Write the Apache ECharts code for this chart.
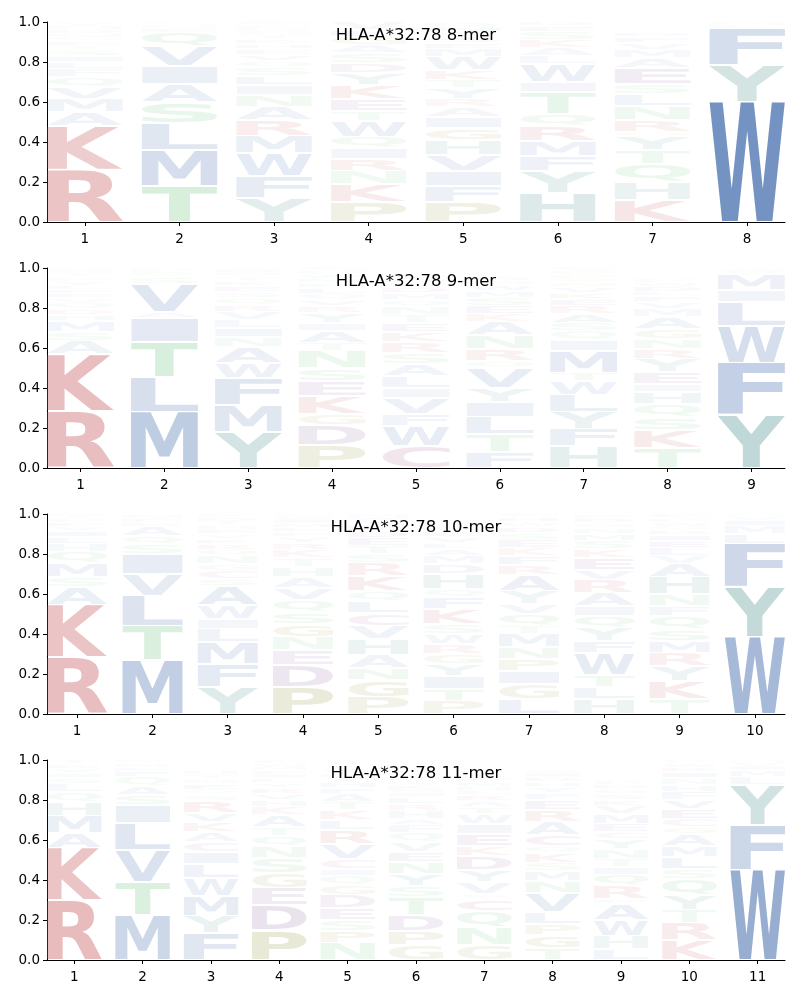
<!DOCTYPE html>
<html><head><meta charset="utf-8">
<script src="https://cdn.jsdelivr.net/npm/echarts@6/dist/echarts.min.js"></script>
<style>html,body{margin:0;padding:0;background:#fff}#c{width:800px;height:1000px}</style>
</head><body><div id="c"></div>
<script>
// ---- data: each position is a bottom-to-top stack of [letter, probability] ----
const titles = ['HLA-A*32:78 8-mer','HLA-A*32:78 9-mer','HLA-A*32:78 10-mer','HLA-A*32:78 11-mer'];
const yTicks = [0, 0.2, 0.4, 0.6, 0.8, 1.0];

const mer8 = [
 [['R',0.26],['K',0.22],['A',0.07],['M',0.065],['V',0.06],['Q',0.05],['F',0.04],['L',0.035],['I',0.03],['S',0.03],['T',0.025],['E',0.02],['G',0.02],['N',0.02],['D',0.02],['H',0.015],['Y',0.015]],
 [['T',0.18],['M',0.18],['L',0.135],['S',0.105],['A',0.09],['I',0.09],['V',0.1],['Q',0.07],['E',0.02],['N',0.015],['G',0.01],['D',0.005]],
 [['Y',0.12],['F',0.11],['W',0.115],['M',0.085],['R',0.08],['A',0.065],['N',0.06],['I',0.05],['L',0.045],['S',0.04],['Q',0.035],['V',0.03],['E',0.03],['H',0.025],['K',0.025],['T',0.02],['G',0.02],['D',0.015],['P',0.015],['C',0.015]],
 [['P',0.1],['K',0.09],['N',0.065],['R',0.06],['I',0.055],['Q',0.055],['W',0.08],['T',0.05],['E',0.06],['K',0.07],['Y',0.06],['D',0.05],['S',0.05],['A',0.04],['G',0.04],['L',0.035],['V',0.04]],
 [['P',0.1],['F',0.08],['I',0.075],['V',0.08],['H',0.075],['G',0.06],['I',0.055],['A',0.05],['R',0.04],['Y',0.055],['T',0.04],['K',0.05],['W',0.065],['M',0.04],['E',0.03],['S',0.03],['Q',0.025],['N',0.03],['D',0.02]],
 [['H',0.145],['Y',0.11],['F',0.075],['M',0.075],['R',0.075],['Q',0.06],['T',0.11],['I',0.05],['W',0.09],['L',0.04],['A',0.04],['K',0.04],['S',0.04],['E',0.03],['D',0.02]],
 [['K',0.11],['H',0.09],['Q',0.09],['T',0.07],['Y',0.07],['G',0.02],['R',0.06],['N',0.07],['L',0.06],['S',0.05],['E',0.08],['A',0.05],['M',0.04],['V',0.035],['F',0.03],['D',0.025]],
 [['W',0.6],['Y',0.185],['F',0.185],['L',0.015],['M',0.01],['I',0.005]]
];
const mer9 = [
 [['R',0.285],['K',0.285],['A',0.065],['S',0.045],['M',0.055],['H',0.03],['D',0.03],['Q',0.03],['V',0.025],['E',0.025],['F',0.02],['L',0.02],['Y',0.02],['P',0.02],['T',0.015],['G',0.015],['N',0.01],['C',0.005]],
 [['M',0.28],['L',0.175],['T',0.175],['I',0.12],['A',0.03],['V',0.14],['S',0.035],['Q',0.025],['F',0.01],['E',0.005],['N',0.005]],
 [['Y',0.18],['M',0.135],['F',0.135],['W',0.075],['A',0.08],['N',0.05],['I',0.045],['L',0.04],['V',0.04],['R',0.035],['Q',0.035],['S',0.03],['E',0.03],['K',0.025],['T',0.025],['G',0.02],['D',0.02]],
 [['P',0.115],['D',0.1],['G',0.055],['K',0.09],['E',0.075],['S',0.065],['N',0.085],['T',0.04],['A',0.06],['I',0.04],['Y',0.05],['R',0.035],['V',0.03],['Q',0.03],['L',0.03],['F',0.025],['M',0.025],['W',0.02],['H',0.015],['C',0.015]],
 [['C',0.11],['W',0.1],['F',0.06],['V',0.08],['I',0.05],['L',0.06],['A',0.06],['S',0.055],['R',0.055],['K',0.05],['E',0.045],['T',0.04],['N',0.04],['Q',0.035],['M',0.035],['D',0.03],['G',0.025],['H',0.015],['Y',0.015]],
 [['F',0.08],['T',0.09],['L',0.085],['I',0.075],['Y',0.07],['V',0.1],['Q',0.035],['R',0.06],['N',0.07],['A',0.065],['K',0.04],['E',0.04],['S',0.04],['M',0.035],['W',0.03],['G',0.025],['D',0.02]],
 [['H',0.11],['F',0.085],['Y',0.085],['L',0.085],['W',0.07],['T',0.04],['M',0.11],['I',0.055],['Q',0.045],['S',0.04],['A',0.045],['R',0.04],['E',0.035],['K',0.03],['V',0.03],['N',0.025],['G',0.02],['P',0.02],['D',0.015],['C',0.015]],
 [['T',0.1],['K',0.09],['S',0.065],['Q',0.065],['H',0.06],['I',0.04],['E',0.06],['Y',0.065],['R',0.05],['N',0.05],['G',0.05],['A',0.06],['M',0.04],['V',0.035],['F',0.03],['L',0.02],['D',0.03],['W',0.02],['P',0.02]],
 [['Y',0.265],['F',0.26],['W',0.185],['L',0.12],['I',0.06],['M',0.08],['V',0.01],['A',0.01],['H',0.005],['C',0.005]]
];
const mer10 = [
 [['R',0.285],['K',0.26],['A',0.09],['S',0.05],['M',0.07],['Q',0.055],['H',0.04],['L',0.035],['I',0.03],['V',0.025],['F',0.02],['E',0.015],['T',0.015],['N',0.01]],
 [['M',0.27],['T',0.17],['L',0.15],['V',0.11],['I',0.1],['S',0.05],['Q',0.04],['A',0.05],['E',0.02],['F',0.02],['N',0.02]],
 [['Y',0.135],['F',0.115],['M',0.11],['L',0.065],['I',0.05],['W',0.07],['A',0.095],['S',0.035],['C',0.04],['G',0.035],['N',0.04],['Q',0.03],['R',0.03],['K',0.025],['V',0.025],['E',0.025],['H',0.02],['T',0.02],['D',0.02],['P',0.015]],
 [['P',0.135],['D',0.11],['E',0.075],['N',0.065],['G',0.065],['S',0.06],['Q',0.06],['V',0.06],['A',0.055],['H',0.05],['T',0.045],['K',0.04],['R',0.035],['Y',0.03],['F',0.025],['L',0.025],['M',0.02],['I',0.02],['W',0.015],['C',0.01]],
 [['P',0.085],['G',0.085],['N',0.06],['A',0.065],['H',0.08],['V',0.065],['C',0.065],['L',0.06],['Q',0.05],['K',0.075],['R',0.065],['S',0.045],['T',0.04],['E',0.04],['D',0.035],['F',0.03],['Y',0.025],['I',0.015],['M',0.015]],
 [['P',0.065],['T',0.06],['I',0.065],['Y',0.06],['G',0.05],['R',0.05],['W',0.05],['S',0.05],['K',0.075],['F',0.06],['Q',0.04],['H',0.075],['D',0.05],['M',0.04],['A',0.035],['L',0.03],['V',0.03],['E',0.03],['N',0.025],['C',0.01]],
 [['L',0.075],['G',0.075],['I',0.065],['P',0.06],['N',0.06],['M',0.065],['T',0.04],['Q',0.06],['V',0.05],['Y',0.065],['A',0.08],['R',0.05],['F',0.045],['K',0.04],['E',0.04],['S',0.035],['D',0.03],['W',0.025],['H',0.025],['C',0.015]],
 [['H',0.075],['L',0.06],['T',0.06],['W',0.11],['F',0.06],['Y',0.065],['Q',0.06],['I',0.05],['A',0.065],['R',0.065],['V',0.05],['E',0.06],['K',0.045],['S',0.04],['M',0.035],['N',0.03],['G',0.025],['D',0.025],['P',0.02]],
 [['T',0.075],['K',0.09],['Y',0.075],['R',0.065],['M',0.06],['S',0.06],['Q',0.065],['F',0.05],['N',0.06],['H',0.085],['A',0.065],['V',0.04],['L',0.04],['E',0.035],['I',0.03],['D',0.025],['G',0.02],['W',0.02],['P',0.02],['C',0.02]],
 [['W',0.385],['Y',0.25],['F',0.215],['L',0.05],['M',0.04],['I',0.03],['V',0.015],['H',0.01],['C',0.005]]
];
const mer11 = [
 [['R',0.3],['K',0.26],['A',0.075],['M',0.085],['H',0.07],['Q',0.05],['L',0.04],['S',0.03],['I',0.025],['V',0.025],['E',0.02],['T',0.02]],
 [['M',0.225],['T',0.165],['V',0.16],['L',0.135],['I',0.09],['S',0.05],['A',0.045],['Q',0.045],['F',0.03],['E',0.02],['N',0.02],['G',0.015]],
 [['F',0.135],['Y',0.085],['M',0.1],['W',0.09],['L',0.07],['I',0.06],['C',0.05],['A',0.05],['K',0.05],['V',0.045],['R',0.06],['S',0.03],['Q',0.025],['E',0.03],['N',0.025],['T',0.025],['H',0.02]],
 [['P',0.15],['D',0.125],['E',0.085],['G',0.075],['S',0.075],['N',0.06],['Q',0.05],['T',0.045],['A',0.06],['K',0.04],['H',0.035],['V',0.03],['R',0.03],['Y',0.025],['L',0.025],['I',0.02],['F',0.02],['M',0.015],['W',0.015],['C',0.02]],
 [['N',0.085],['P',0.06],['S',0.055],['E',0.06],['D',0.065],['G',0.05],['Q',0.045],['I',0.035],['C',0.05],['V',0.075],['R',0.07],['L',0.05],['K',0.05],['T',0.04],['A',0.04],['F',0.03],['H',0.03],['Y',0.025],['M',0.02],['W',0.015]],
 [['G',0.075],['P',0.07],['D',0.08],['T',0.09],['S',0.055],['Y',0.06],['N',0.06],['E',0.05],['V',0.05],['Q',0.045],['F',0.04],['A',0.03],['H',0.04],['R',0.035],['L',0.035],['I',0.025],['M',0.015],['K',0.02],['W',0.015],['C',0.015]],
 [['G',0.075],['N',0.09],['Q',0.08],['C',0.06],['S',0.025],['V',0.06],['Y',0.06],['D',0.07],['K',0.05],['E',0.06],['I',0.05],['W',0.05],['T',0.035],['A',0.03],['R',0.03],['L',0.025],['H',0.02],['M',0.02],['F',0.02],['P',0.02]],
 [['T',0.06],['G',0.065],['P',0.055],['L',0.06],['V',0.095],['N',0.06],['M',0.05],['S',0.04],['K',0.05],['Q',0.035],['C',0.055],['A',0.065],['R',0.06],['E',0.05],['F',0.035],['Y',0.03],['H',0.025],['D',0.025],['I',0.02],['W',0.015]],
 [['L',0.055],['H',0.065],['W',0.08],['A',0.08],['F',0.025],['R',0.065],['Q',0.055],['I',0.04],['T',0.04],['N',0.05],['Y',0.05],['C',0.035],['E',0.04],['M',0.05],['V',0.04],['K',0.03],['S',0.03],['G',0.025],['D',0.025],['P',0.02]],
 [['K',0.1],['R',0.085],['T',0.065],['Y',0.075],['Q',0.08],['S',0.05],['L',0.06],['M',0.055],['A',0.06],['G',0.035],['C',0.04],['E',0.05],['V',0.045],['F',0.04],['H',0.035],['N',0.035],['I',0.03],['D',0.025],['W',0.02],['P',0.015]],
 [['W',0.45],['F',0.225],['Y',0.2],['L',0.04],['M',0.035],['I',0.02],['V',0.015],['H',0.01],['C',0.005]]
];
const panels = [mer8, mer9, mer10, mer11];

// ---- styling ----
const letterColors = {KR:[196,78,82], HY:[70,140,138], AVLIMFW:[76,114,176], STNQ:[85,184,104], DE:[126,78,148], PG:[138,138,48], C:[154,74,138]};
function baseColor(ch){ for (const k in letterColors) if (k.indexOf(ch) >= 0) return letterColors[k]; return [128,128,128]; }
const FONT = 'bold 200px "DejaVu Sans"';
const glyphCache = {};
const mctx = document.createElement('canvas').getContext('2d');
function glyph(ch){
  if (glyphCache[ch]) return glyphCache[ch];
  mctx.font = FONT; mctx.textBaseline = 'middle'; mctx.textAlign = 'left';
  const m = mctx.measureText(ch);
  return glyphCache[ch] = {L:m.actualBoundingBoxLeft, R:m.actualBoundingBoxRight, A:m.actualBoundingBoxAscent, D:m.actualBoundingBoxDescent};
}

const GRID_TOP = 22, GRID_H = 200, GRID_STEP = 246;
const grids = [], xAxes = [], yAxes = [], series = [], titleOpts = [];
panels.forEach((panel, i) => {
  const L = panel.length;
  const marks = [];
  panel.forEach((stack, j) => {
    let cum = 0;
    stack.forEach(([ch, p]) => { marks.push({pos: j + 1, y0: cum, y1: cum + p, ch, p}); cum += p; });
  });
  const positions = panel.map((_, j) => j + 1);
  grids.push({left: 47, right: 15, top: GRID_TOP + GRID_STEP * i, height: GRID_H, containLabel: false});
  xAxes.push({type: 'value', gridIndex: i, min: 0.6, max: L + 0.4,
    axisLine: {show: true, onZero: false, lineStyle: {color: '#000', width: 1}},
    axisTick: {show: true, length: 4, lineStyle: {color: '#000'}, customValues: positions},
    axisLabel: {color: '#000', fontSize: 13.5, fontFamily: 'DejaVu Sans', margin: 10, customValues: positions, formatter: v => String(v)},
    splitLine: {show: false}});
  yAxes.push({type: 'value', gridIndex: i, min: 0, max: 1, interval: 0.2,
    axisLine: {show: true, lineStyle: {color: '#000', width: 1}},
    axisTick: {show: true, length: 4, lineStyle: {color: '#000'}},
    axisLabel: {color: '#000', fontSize: 13.5, fontFamily: 'DejaVu Sans', margin: 7, formatter: v => v.toFixed(1)},
    splitLine: {show: false}});
  titleOpts.push({text: titles[i], left: 416, top: GRID_TOP + GRID_STEP * i + 5, textAlign: 'center', padding: 0,
    textStyle: {fontSize: 16.5, fontWeight: 'normal', color: '#000', fontFamily: 'DejaVu Sans'}});
  series.push({type: 'custom', xAxisIndex: i, yAxisIndex: i, silent: true, animation: false, clip: false,
    encode: {x: 0, y: [1, 2]},
    data: marks.map((m, k) => [m.pos, m.y0, m.y1, k]),
    renderItem: (params, api) => {
      const m = marks[api.value(3)];
      const a = api.coord([m.pos - 0.4, m.y1]);
      const b = api.coord([m.pos + 0.4, m.y0]);
      let left = a[0], top = a[1], w = b[0] - a[0], h = b[1] - a[1];
      if (h > 4) { top += 1; h -= 2; } else if (h > 2) { top += 0.5; h -= 1; }
      if (h <= 0.2) return null;
      const g = glyph(m.ch);
      const sx = w / (g.L + g.R), sy = h / (g.A + g.D);
      const c = baseColor(m.ch), alpha = Math.min(1, 1.28 * m.p);
      return {type: 'text', x: left + g.L * sx, y: top + g.A * sy, scaleX: sx, scaleY: sy, silent: true,
        style: {text: m.ch, font: FONT, x: 0, y: 0, align: 'left', verticalAlign: 'middle',
          fill: 'rgba(' + c[0] + ',' + c[1] + ',' + c[2] + ',' + alpha.toFixed(3) + ')'}};
    }
  });
});

const chart = echarts.init(document.getElementById('c'), null, {renderer: 'canvas'});
chart.setOption({animation: false, backgroundColor: '#fff', title: titleOpts, grid: grids, xAxis: xAxes, yAxis: yAxes, series: series});
</script></body></html>
